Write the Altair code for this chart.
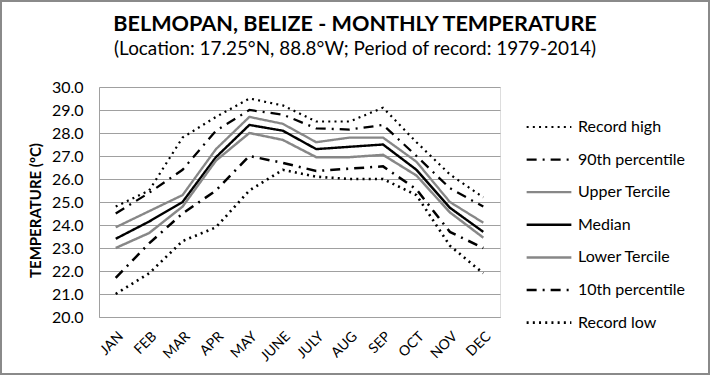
import altair as alt
import pandas as pd

months = ["JAN", "FEB", "MAR", "APR", "MAY", "JUNE", "JULY", "AUG", "SEP", "OCT", "NOV", "DEC"]
series_names = ["Record high", "90th percentile", "Upper Tercile", "Median",
                "Lower Tercile", "10th percentile", "Record low"]

record_high = [24.8, 25.5, 27.8, 28.7, 29.5, 29.2, 28.5, 28.5, 29.1, 27.6, 26.2, 25.2]
p90 = [24.5, 25.4, 26.4, 28.1, 29.0, 28.8, 28.2, 28.15, 28.35, 27.0, 25.6, 24.8]
upper_tercile = [23.9, 24.6, 25.3, 27.3, 28.7, 28.4, 27.6, 27.8, 27.8, 26.75, 25.0, 24.1]
median = [23.4, 24.15, 25.0, 26.95, 28.35, 28.1, 27.3, 27.4, 27.5, 26.4, 24.75, 23.7]
lower_tercile = [23.0, 23.65, 24.8, 26.8, 28.0, 27.7, 26.95, 26.95, 27.05, 26.15, 24.55, 23.45]
p10 = [21.7, 23.2, 24.5, 25.5, 27.0, 26.7, 26.35, 26.45, 26.55, 25.55, 23.7, 23.0]
record_low = [21.0, 21.9, 23.3, 23.9, 25.5, 26.4, 26.1, 26.0, 26.0, 25.3, 23.1, 21.9]

y_ticks = [20, 21, 22, 23, 24, 25, 26, 27, 28, 29, 30]

title_text = "BELMOPAN, BELIZE - MONTHLY TEMPERATURE"
subtitle_text = "(Location: 17.25°N, 88.8°W; Period of record: 1979-2014)"

all_series = [record_high, p90, upper_tercile, median, lower_tercile, p10, record_low]
rows = []
for name, vals in zip(series_names, all_series):
    for m, v in zip(months, vals):
        rows.append({"month": m, "series": name, "temp": v})
df = pd.DataFrame(rows)

FONT = "Lato"
GRAY = "#878787"
dot = [2, 4.2]
dashdot = [10, 6, 2, 6]
solid = [1, 0]


def make_legend():
    return alt.Legend(title=None, orient="none", legendX=440, legendY=30,
                      symbolType="M-2.6,0H2.6", symbolSize=296,
                      labelFont=FONT, labelFontSize=16, labelColor="black",
                      rowPadding=14.6, labelOffset=19, padding=0)


lines = alt.Chart(df).mark_line(strokeJoin="miter").encode(
    x=alt.X("month:N", sort=months, title=None,
            scale=alt.Scale(paddingInner=0, paddingOuter=0),
            axis=alt.Axis(labelAngle=-45, labelAlign="right", labelBaseline="top",
                          labelPadding=12, labelFontSize=14, labelFont=FONT,
                          labelColor="black", ticks=False, domainColor="#a0a0a0",
                          grid=False)),
    y=alt.Y("temp:Q", title="TEMPERATURE (ºC)",
            scale=alt.Scale(domain=[20, 30], nice=False, zero=False),
            axis=alt.Axis(values=y_ticks, format=".1f", ticks=False,
                          labelFontSize=16, labelFont=FONT, labelColor="black",
                          labelPadding=16, domainColor="#a0a0a0",
                          gridColor="#a0a0a0", titleFont=FONT, titleFontSize=15,
                          titleFontWeight="bold", titleColor="black",
                          titlePadding=8, titleY=123)),
    color=alt.Color("series:N", sort=series_names,
                    scale=alt.Scale(domain=series_names,
                                    range=["black", "black", GRAY, "black", GRAY, "black", "black"]),
                    legend=make_legend()),
    strokeDash=alt.StrokeDash("series:N", sort=series_names,
                              scale=alt.Scale(domain=series_names,
                                              range=[dot, dashdot, solid, solid, solid, dashdot, dot]),
                              legend=make_legend()),
    strokeWidth=alt.StrokeWidth("series:N", sort=series_names,
                                scale=alt.Scale(domain=series_names,
                                                range=[2.2, 2.6, 3, 3, 3, 2.6, 2.2]),
                                legend=make_legend()),
    detail="series:N",
)

one = alt.Data(values=[{}])

frame = alt.Chart(one).mark_rect(
    fill=None, stroke="#8a8a8a", strokeWidth=2
).encode(x=alt.value(-98), x2=alt.value(610), y=alt.value(-86), y2=alt.value(287))

title_mark = alt.Chart(one).mark_text(
    text=title_text, font=FONT, fontSize=21.6, fontWeight="bold", color="black",
    align="center", baseline="alphabetic"
).encode(x=alt.value(256), y=alt.value(-56))

subtitle_mark = alt.Chart(one).mark_text(
    text=subtitle_text, font=FONT, fontSize=18.9, color="black",
    align="center", baseline="alphabetic"
).encode(x=alt.value(256), y=alt.value(-32))

chart = alt.layer(frame, title_mark, subtitle_mark, lines).properties(
    width=401, height=230,
    padding={"left": 99, "top": 87, "right": 210, "bottom": 58},
    autosize=alt.AutoSizeParams(type="none"),
).configure_view(stroke=None).configure(background="white")

chart.save("out.html", embed_options={"renderer": "svg", "actions": False})
